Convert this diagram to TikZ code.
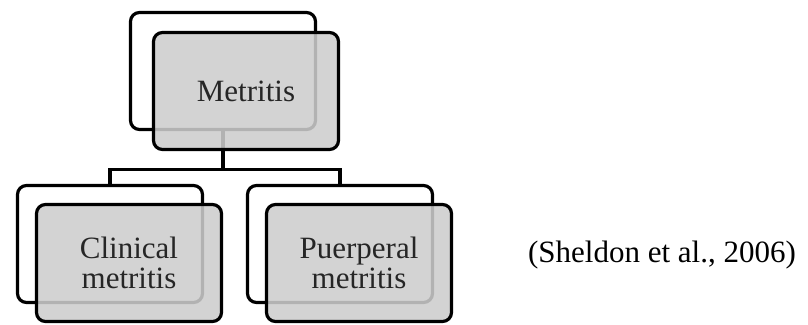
\documentclass[tikz,border=0pt]{standalone}
\usepackage{fontspec}
\setmainfont{Liberation Serif}
\definecolor{boxfill}{gray}{0.805}
\definecolor{boxtext}{gray}{0.15}
\begin{document}
\begin{tikzpicture}[x=1pt,y=-1pt,line width=3.2pt,
            back frame/.style={draw,fill=white,rounded corners=9pt,
              minimum width=185pt,minimum height=117pt},
            front box/.style={draw,fill=boxfill,fill opacity=0.87,text opacity=1,
              rounded corners=9pt,minimum width=185pt,minimum height=117pt,
              align=center,text=boxtext,font=\fontsize{31}{30}\selectfont}]

        \useasboundingbox (0,0) rectangle (808,324);

        % Define back frames
        \node[back frame] (Mb) at (223,71) {};
        \node[back frame] (Cb) at (110,244) {};
        \node[back frame] (Pb) at (340,244) {};

        % Draw connectors
        \draw (Mb.south) -- ++(0,38) coordinate (J);
        \draw (Cb.north) |- (J) -| (Pb.north);

        % Define front boxes
        \node[front box] (M) at ([shift={(23,20)}]Mb.center) {Metritis};
        \node[front box] (C) at ([shift={(19,19)}]Cb.center) {Clinical\\metritis};
        \node[front box] (P) at ([shift={(19,19)}]Pb.center) {Puerperal\\metritis};

        % Citation
        \node[font=\fontsize{31}{31}\selectfont] (cite) at (662,255) {(Sheldon et al., 2006)};

\end{tikzpicture}
\end{document}
